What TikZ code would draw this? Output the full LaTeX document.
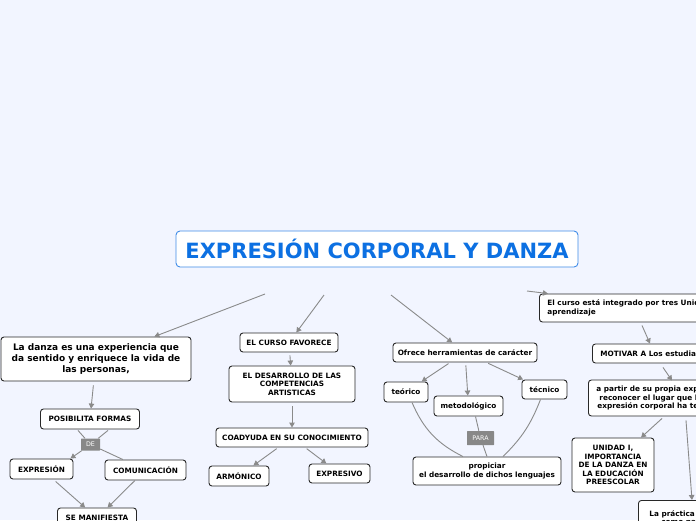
\documentclass[tikz,border=0pt]{standalone}
\usepackage{fontspec}
\setmainfont{DejaVu Sans}
\usetikzlibrary{arrows.meta}
\definecolor{bgblue}{RGB}{242,245,255}
\definecolor{titleblue}{RGB}{12,112,226}
\definecolor{titleline}{RGB}{64,140,232}
\definecolor{nodeline}{RGB}{40,40,40}
\definecolor{linkgray}{RGB}{138,138,138}
\definecolor{taggray}{RGB}{136,136,136}
\begin{document}
\begin{tikzpicture}[x=1pt,y=-1pt,topic/.style={draw=nodeline,fill=white,rounded corners=3pt,line width=0.9pt,align=center,inner sep=1pt,font=\bfseries\fontsize{7.3}{8.6}\selectfont},link/.style={draw=linkgray,line width=0.9pt},arrow/.style={link,-{Triangle[length=5pt,width=5.5pt]}},tag/.style={fill=taggray,text=white,rounded corners=0.5pt,inner sep=0pt,font=\fontsize{6.3}{7}\selectfont}]
\useasboundingbox (0,0) rectangle (696,520);
\clip (0,0) rectangle (696,520);
\fill[bgblue] (0,0) rectangle (696,520);
% central topic
\node[draw=titleline,fill=white,rounded corners=4pt,line width=0.9pt,minimum width=402pt,minimum height=36pt,text=titleblue,font=\bfseries\fontsize{21}{24}\selectfont] (root) at (377,249) {EXPRESIÓN CORPORAL Y DANZA};
\coordinate (t1) at (265,294);
\coordinate (t2) at (324,295);
\coordinate (t3) at (391,295);
\coordinate (t4) at (527,291);
% left branch
\node[topic,minimum width=190pt,minimum height=44pt,font=\bfseries\fontsize{9}{10.7}\selectfont] (danza) at (96,359) {La danza es una experiencia que\\da sentido y enriquece la vida de\\las personas,};
\node[topic,minimum width=99pt,minimum height=20pt] (posib) at (90,419) {POSIBILITA FORMAS};
\node[tag,minimum width=19pt,minimum height=12pt] (de) at (90.5,444.5) {DE};
\node[topic,minimum width=63pt,minimum height=20pt] (expr) at (41.5,469) {EXPRESIÓN};
\node[topic,minimum width=81pt,minimum height=20pt] (comun) at (145.5,470) {COMUNICACIÓN};
\node[topic,minimum width=79pt,minimum height=20pt] (manif) at (97,518) {SE MANIFIESTA};
% middle branch
\node[topic,minimum width=98pt,minimum height=19pt] (favorece) at (289,342.5) {EL CURSO FAVORECE};
\node[topic,minimum width=126pt,minimum height=36pt] (desarrollo) at (292,384) {EL DESARROLLO DE LAS\\COMPETENCIAS\\ARTISTICAS};
\node[topic,minimum width=152pt,minimum height=19pt] (coady) at (292,437.5) {COADYUDA EN SU CONOCIMIENTO};
\node[topic,minimum width=60pt,minimum height=20pt] (armon) at (239,476) {ARMÓNICO};
\node[topic,minimum width=61pt,minimum height=19pt] (expresivo) at (339.5,473.5) {EXPRESIVO};
% tools branch
\node[topic,minimum width=144pt,minimum height=19pt] (ofrece) at (465,352.5) {Ofrece herramientas de carácter};
\node[topic,minimum width=44pt,minimum height=20pt] (teorico) at (406,392) {teórico};
\node[topic,minimum width=69pt,minimum height=20pt] (metodo) at (468.5,406) {metodológico};
\node[topic,minimum width=45pt,minimum height=19pt] (tecnico) at (544.5,389.5) {técnico};
\node[tag,minimum width=27pt,minimum height=14pt] (para) at (480.5,438) {PARA};
\node[topic,minimum width=148pt,minimum height=28pt] (propiciar) at (487,471) {propiciar\\el desarrollo de dichos lenguajes};
% right branch
\node[topic,anchor=west,align=left,inner xsep=8pt,minimum height=28pt] (integrado) at (539,308) {El curso está integrado por tres Unidades de\\aprendizaje};
\node[topic,anchor=west,inner xsep=8pt,minimum height=19pt] (motivar) at (592,353.5) {MOTIVAR A Los estudiantes};
\node[topic,anchor=west,align=left,inner xsep=8pt,minimum height=36pt] (apartir) at (588,398) {a partir de su propia experiencia\\\hspace*{3pt}reconocer el lugar que la danza\\\hspace*{1pt}expresión corporal ha tenido};
\node[topic,minimum width=82pt,minimum height=54pt] (unidad) at (613,465) {UNIDAD I,\\IMPORTANCIA\\DE LA DANZA EN\\LA EDUCACIÓN\\PREESCOLAR};
\node[topic,anchor=north west,inner xsep=11pt,minimum height=36pt] (practica) at (638,500) {La práctica de la danza\\como parte de su};
% connectors
\draw[arrow] (t1) -- (danza);
\draw[arrow] (t2) -- (favorece);
\draw[arrow] (t3) -- (ofrece);
\draw[arrow] (t4) -- ([xshift=9pt]integrado.north west);
\draw[arrow,shorten <=4pt] (danza) -- (posib);
\draw[link] ([xshift=-12pt,yshift=-1pt]posib.south) -- (de);
\draw[link] ([xshift=18pt,yshift=-1pt]posib.south) -- (de);
\draw[arrow] (de) -- ([xshift=-3pt]expr.north east);
\draw[link] (de) -- (comun);
\draw[arrow,shorten <=3pt] (expr) -- (manif);
\draw[arrow] (comun) -- (manif);
\draw[arrow,shorten <=3pt] (favorece) -- (desarrollo);
\draw[arrow,shorten <=4pt] (desarrollo) -- (coady);
\draw[arrow,shorten <=2pt] (coady) -- (armon);
\draw[arrow,shorten <=2pt] (coady) -- (expresivo);
\draw[arrow,shorten <=2pt] (ofrece) -- (teorico);
\draw[arrow,shorten <=3pt] (ofrece) -- (metodo);
\draw[arrow,shorten <=2pt] (ofrece) -- (tecnico);
\draw[link] ([xshift=6pt]teorico.south) to[bend right=20] ([xshift=-24pt]propiciar.north);
\draw[link] ([xshift=7pt]metodo.south) -- (para);
\draw[link] (para) -- (propiciar.north);
\draw[link] ([xshift=-4pt]tecnico.south) to[bend left=12] ([xshift=16pt]propiciar.north);
\draw[arrow] ([xshift=103pt,yshift=-3pt]integrado.south west) -- ([xshift=58pt]motivar.north west);
\draw[arrow] ([xshift=71pt,yshift=-4pt]motivar.south west) -- ([xshift=84pt,yshift=-1pt]apartir.north west);
\draw[arrow] ([xshift=74pt,yshift=-2pt]apartir.south west) -- ([xshift=28pt]unidad.north);
\draw[arrow] ([xshift=98pt,yshift=-4pt]apartir.south west) -- ([xshift=54pt]practica.north west);
\end{tikzpicture}
\end{document}
